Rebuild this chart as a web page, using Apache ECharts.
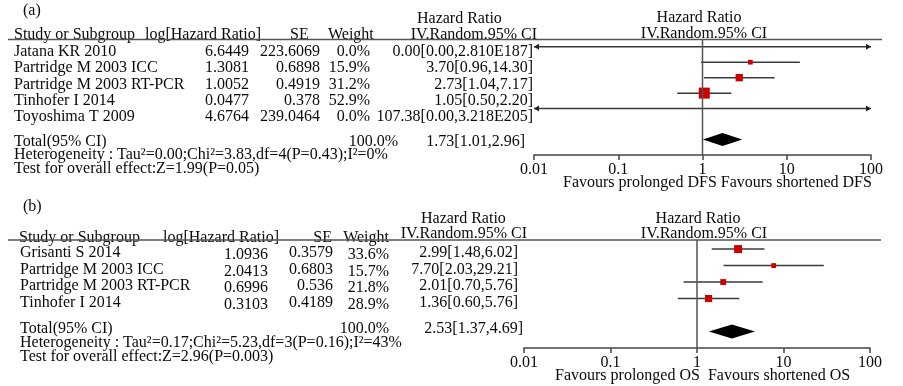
<!DOCTYPE html>
<html>
<head>
<meta charset="utf-8">
<script src="https://cdn.jsdelivr.net/npm/echarts@6/dist/echarts.min.js"></script>
<style>
  html, body { margin: 0; padding: 0; background: #fff; }
  #chart { width: 903px; height: 386px; }
</style>
</head>
<body>
<div id="chart"></div>
<script>
// (a) disease-free survival
var studiesA = ['Jatana KR 2010', 'Partridge M 2003 ICC', 'Partridge M 2003 RT-PCR', 'Tinhofer I 2014', 'Toyoshima T 2009'];
var logHrA = ['6.6449', '1.3081', '1.0052', '0.0477', '4.6764'];
var seA = ['223.6069', '0.6898', '0.4919', '0.378', '239.0464'];
var weightA = [0.0, 15.9, 31.2, 52.9, 0.0];
var hrA = [0.00, 3.70, 2.73, 1.05, 107.38];
var loA = [0.00, 0.96, 1.04, 0.50, 0.00];
var hiA = [2.810e187, 14.30, 7.17, 2.20, 3.218e205];
var ciTextA = ['0.00[0.00,2.810E187]', '3.70[0.96,14.30]', '2.73[1.04,7.17]', '1.05[0.50,2.20]', '107.38[0.00,3.218E205]'];
var totalA = [1.73, 1.01, 2.96];
var totalTextA = '1.73[1.01,2.96]';
var hetA = 'Heterogeneity : Tau\u00b2=0.00;Chi\u00b2=3.83,df=4(P=0.43);I\u00b2=0%';
var testA = 'Test for overall effect:Z=1.99(P=0.05)';
var favoursA = 'Favours prolonged DFS Favours shortened DFS';

// (b) overall survival
var studiesB = ['Grisanti S 2014', 'Partridge M 2003 ICC', 'Partridge M 2003 RT-PCR', 'Tinhofer I 2014'];
var logHrB = ['1.0936', '2.0413', '0.6996', '0.3103'];
var seB = ['0.3579', '0.6803', '0.536', '0.4189'];
var weightB = [33.6, 15.7, 21.8, 28.9];
var hrB = [2.99, 7.70, 2.01, 1.36];
var loB = [1.48, 2.03, 0.70, 0.60];
var hiB = [6.02, 29.21, 5.76, 3.08];
var ciTextB = ['2.99[1.48,6.02]', '7.70[2.03,29.21]', '2.01[0.70,5.76]', '1.36[0.60,5.76]'];
var totalB = [2.53, 1.37, 4.69];
var totalTextB = '2.53[1.37,4.69]';
var hetB = 'Heterogeneity : Tau\u00b2=0.17;Chi\u00b2=5.23,df=3(P=0.16);I\u00b2=43%';
var testB = 'Test for overall effect:Z=2.96(P=0.003)';
var favoursB = 'Favours prolonged OS  Favours shortened OS';

var tickLabels = ['0.01', '0.1', '1', '10', '100'];

var X_MIN = 0.01, X_MAX = 100;
var FONT = '16px "Liberation Serif", "Times New Roman", serif';

var chart = echarts.init(document.getElementById('chart'));

// text is drawn 2px lower than the nominal middle so the glyphs sit where the reference has them
function txt(x, y, s, align) {
  return {
    type: 'text', x: x, y: y + 2, silent: true,
    style: { text: s, font: FONT, fill: '#0a0a0a', align: align || 'left', verticalAlign: 'middle' }
  };
}

function hline(x1, x2, y) {
  return { type: 'line', silent: true, shape: { x1: x1, y1: y, x2: x2, y2: y }, style: { stroke: '#555', lineWidth: 1.5 } };
}

// one study: CI line, arrows when it runs off the axis, square sized by weight
function renderStudy(maxW, maxSize) {
  return function (params, api) {
    var hr = api.value(0), lo = api.value(1), hi = api.value(2), row = api.value(3), w = api.value(4);
    var a = api.coord([Math.max(lo, X_MIN), row]);
    var b = api.coord([Math.min(hi, X_MAX), row]);
    var kids = [{
      type: 'line', shape: { x1: a[0], y1: a[1], x2: b[0], y2: b[1] },
      style: { stroke: '#3a3a3a', lineWidth: 1.5 }
    }];
    if (lo < X_MIN) {
      kids.push({ type: 'polygon', shape: { points: [[a[0], a[1]], [a[0] + 5, a[1] - 3], [a[0] + 5, a[1] + 3]] }, style: { fill: '#222' } });
    }
    if (hi > X_MAX) {
      kids.push({ type: 'polygon', shape: { points: [[b[0], b[1]], [b[0] - 5, b[1] - 3], [b[0] - 5, b[1] + 3]] }, style: { fill: '#222' } });
    }
    if (w > 0) {
      var c = api.coord([hr, row]);
      var s = 2 + (maxSize - 2) * w / maxW;
      kids.push({ type: 'rect', shape: { x: c[0] - s / 2, y: c[1] - s / 2, width: s, height: s }, style: { fill: '#cc0000' } });
    }
    return { type: 'group', children: kids };
  };
}

function renderDiamond(h) {
  return function (params, api) {
    var row = api.value(3);
    var m = api.coord([api.value(0), row]);
    var l = api.coord([api.value(1), row]);
    var r = api.coord([api.value(2), row]);
    return {
      type: 'polygon',
      shape: { points: [[l[0], l[1]], [m[0], m[1] - h], [r[0], r[1]], [m[0], m[1] + h]] },
      style: { fill: '#000' }
    };
  };
}

function studyData(hr, lo, hi, w) {
  return hr.map(function (v, i) { return [v, lo[i], hi[i], i, w[i]]; });
}

function xAxisFor(idx) {
  return {
    type: 'log', logBase: 10, min: X_MIN, max: X_MAX, gridIndex: idx, position: 'bottom',
    axisLine: { onZero: false, lineStyle: { color: '#444', width: 1.5 } },
    axisTick: { length: 5, lineStyle: { color: '#444', width: 1.5 } },
    splitLine: { show: false },
    axisLabel: {
      margin: 7, color: '#0a0a0a', fontFamily: '"Liberation Serif", serif', fontSize: 16,
      formatter: function (v) { return tickLabels[Math.round(Math.log10(v)) + 2]; }
    }
  };
}

// table text
var g = [];
g.push(txt(23, 9, '(a)'));
g.push(txt(14, 33, 'Study or Subgroup'));
g.push(txt(145, 33, 'log[Hazard Ratio]'));
g.push(txt(290, 33, 'SE'));
g.push(txt(328, 33, 'Weight'));
g.push(txt(417, 17, 'Hazard Ratio'));
g.push(txt(537, 33, 'IV.Random.95% CI', 'right'));
g.push(txt(699, 16, 'Hazard Ratio', 'center'));
g.push(txt(704, 32, 'IV.Random.95% CI', 'center'));
g.push(hline(8, 882, 39.5));
studiesA.forEach(function (s, i) {
  var y = 50 + i * 16.2;
  g.push(txt(14, y, s));
  g.push(txt(249, y, logHrA[i], 'right'));
  g.push(txt(320, y, seA[i], 'right'));
  g.push(txt(370, y, weightA[i].toFixed(1) + '%', 'right'));
  g.push(txt(533, y, ciTextA[i], 'right'));
});
g.push(txt(14, 140, 'Total(95% CI)'));
g.push(txt(398, 140, '100.0%', 'right'));
g.push(txt(525, 140, totalTextA, 'right'));
g.push(txt(14, 153, hetA));
g.push(txt(14, 167, testA));
g.push(txt(563, 181, favoursA));

g.push(txt(23, 205, '(b)'));
g.push(txt(19, 236, 'Study or Subgroup'));
g.push(txt(163, 236, 'log[Hazard Ratio]'));
g.push(txt(332, 236, 'SE', 'right'));
g.push(txt(389, 236, 'Weight', 'right'));
g.push(txt(421, 217, 'Hazard Ratio'));
g.push(txt(527, 232, 'IV.Random.95% CI', 'right'));
g.push(txt(698, 217, 'Hazard Ratio', 'center'));
g.push(txt(704, 232, 'IV.Random.95% CI', 'center'));
g.push(hline(8, 881, 240));
studiesB.forEach(function (s, i) {
  var y = 251 + i * 16.6;
  g.push(txt(20, y, s));
  g.push(txt(268, y + 2, logHrB[i], 'right'));
  g.push(txt(333, y, seB[i], 'right'));
  g.push(txt(389, y + 2, weightB[i].toFixed(1) + '%', 'right'));
  g.push(txt(518, y, ciTextB[i], 'right'));
});
g.push(txt(20, 327, 'Total(95% CI)'));
g.push(txt(389, 327, '100.0%', 'right'));
g.push(txt(523, 327, totalTextB, 'right'));
g.push(txt(20, 341, hetB));
g.push(txt(20, 355, testB));
g.push(txt(555, 374, favoursB));

chart.setOption({
  animation: false,
  backgroundColor: '#fff',
  graphic: g,
  grid: [
    { left: 534, right: 32, top: 39, height: 116 },
    { left: 524, right: 33, top: 240, height: 108 }
  ],
  xAxis: [xAxisFor(0), xAxisFor(1)],
  yAxis: [
    { type: 'value', gridIndex: 0, inverse: true, min: -0.5, max: 7, show: false },
    { type: 'value', gridIndex: 1, inverse: true, min: -0.55, max: 6, show: false }
  ],
  series: [
    // line of no effect
    {
      type: 'line', xAxisIndex: 0, yAxisIndex: 0, symbol: 'none', silent: true,
      data: [[1, -0.5], [1, 7]], lineStyle: { color: '#555', width: 1.5 }
    },
    {
      type: 'line', xAxisIndex: 1, yAxisIndex: 1, symbol: 'none', silent: true,
      data: [[1, -0.55], [1, 6]], lineStyle: { color: '#555', width: 1.5 }
    },
    {
      type: 'custom', xAxisIndex: 0, yAxisIndex: 0, silent: true, clip: false,
      encode: { x: 0, y: 3 },
      renderItem: renderStudy(52.9, 11),
      data: studyData(hrA, loA, hiA, weightA)
    },
    {
      type: 'custom', xAxisIndex: 1, yAxisIndex: 1, silent: true, clip: false,
      encode: { x: 0, y: 3 },
      renderItem: renderStudy(33.6, 8),
      data: studyData(hrB, loB, hiB, weightB)
    },
    {
      type: 'custom', xAxisIndex: 0, yAxisIndex: 0, silent: true,
      encode: { x: 0, y: 3 },
      renderItem: renderDiamond(6.5),
      data: [[totalA[0], totalA[1], totalA[2], 6]]
    },
    {
      type: 'custom', xAxisIndex: 1, yAxisIndex: 1, silent: true,
      encode: { x: 0, y: 3 },
      renderItem: renderDiamond(7),
      data: [[totalB[0], totalB[1], totalB[2], 5]]
    }
  ]
});
</script>
</body>
</html>
